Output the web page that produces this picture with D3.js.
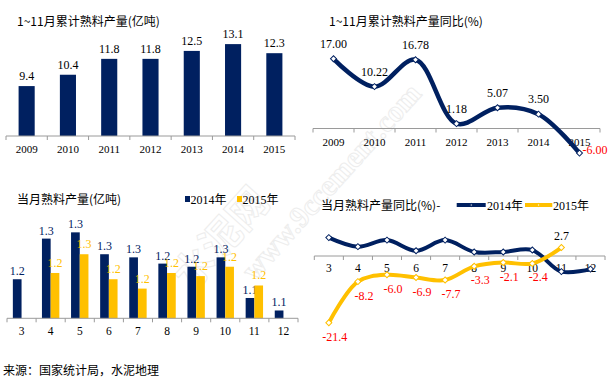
<!DOCTYPE html>
<html lang="zh">
<head>
<meta charset="UTF-8">
<title>熟料产量</title>
<style>
  body { margin: 0; padding: 0; background: #fff; }
  svg { display: block; }
  .num { font-family: "Liberation Serif", "Noto Sans CJK SC", serif; }
  .cjk { font-family: "Noto Sans CJK SC", sans-serif; }
  .axis-line { stroke: #9a9a9a; stroke-width: 1; fill: none; }
</style>
</head>
<body>
<div id="chart"></div>
<script src="https://d3js.org/d3.v7.min.js"></script>
<script>
// 1~11月累计熟料产量 (亿吨)
const years = ["2009", "2010", "2011", "2012", "2013", "2014", "2015"];
const cumOutput = [9.4, 10.4, 11.8, 11.8, 12.5, 13.1, 12.3];
// 1~11月累计同比 (%)
const cumGrowth = [17.00, 10.22, 16.78, 1.18, 5.07, 3.50, -6.00];

// 当月熟料产量 (亿吨), 3~12月
const months = ["3", "4", "5", "6", "7", "8", "9", "10", "11", "12"];
const out2014 = [1.19, 1.32, 1.34, 1.27, 1.26, 1.24, 1.23, 1.26, 1.13, 1.09];
const out2015 = [null, 1.21, 1.27, 1.19, 1.16, 1.21, 1.20, 1.23, 1.17, null];
// 当月同比 (%)
const yoy2014 = [5.9, 3.0, 5.1, 1.7, 5.1, 1.3, 1.3, 1.9, -5.0, -4.2];
const yoy2015 = [-21.4, -8.2, -6.0, -6.9, -7.7, -3.3, -2.1, -2.4, 2.7, null];

const navy = "#002060", gold = "#FFC000";

const svg = d3.select("#chart").append("svg")
  .attr("width", 614).attr("height", 379);

// faint watermark
const wm = svg.append("g").attr("transform", "translate(285,215) rotate(-48)")
  .attr("fill", "none").attr("stroke", "#ededed").attr("stroke-width", 1);
wm.append("text").attr("class", "cjk").attr("x", -120).attr("y", -18)
  .attr("font-size", 40).attr("font-weight", "bold").text("水泥网");
wm.append("text").attr("class", "num").attr("x", -70).attr("y", 22)
  .attr("font-size", 30).attr("font-weight", "bold").text("www.9ccement.com");

function bottomAxis(g, x, y0) {
  const r = x.range();
  g.append("line").attr("class", "axis-line")
    .attr("x1", r[0]).attr("x2", r[1]).attr("y1", y0).attr("y2", y0);
  const edges = x.domain().map(d => x(d)).concat([r[1]]);
  g.selectAll(".tk").data(edges).enter().append("line")
    .attr("class", "axis-line")
    .attr("x1", d => d).attr("x2", d => d)
    .attr("y1", y0).attr("y2", y0 + 4);
}

function diamond(g, cx, cy, color, s) {
  g.append("path")
    .attr("d", d3.symbol(d3.symbolSquare, s || 18)())
    .attr("transform", `translate(${cx},${cy}) rotate(45)`)
    .attr("fill", "#fff").attr("stroke", color).attr("stroke-width", 1);
}

// ---------- chart 1: cumulative output bars ----------
{
  const g = svg.append("g");
  g.append("text").attr("class", "cjk").attr("x", 17).attr("y", 26)
    .attr("font-size", 12).text("1~11月累计熟料产量(亿吨)");
  const x = d3.scaleBand().domain(years).range([6, 295]);
  const y = d3.scaleLinear().domain([5, 14]).range([136, 33.9]);
  const bw = x.bandwidth() * 0.39;
  const data = years.map((yr, i) => ({ yr, v: cumOutput[i] }));
  g.selectAll(".bar").data(data).enter().append("rect")
    .attr("x", d => x(d.yr) + (x.bandwidth() - bw) / 2)
    .attr("y", d => y(d.v)).attr("width", bw)
    .attr("height", d => y.range()[0] - y(d.v))
    .attr("fill", navy);
  g.selectAll(".lbl").data(data).enter().append("text")
    .attr("class", "num").attr("text-anchor", "middle").attr("font-size", 12)
    .attr("x", d => x(d.yr) + x.bandwidth() / 2)
    .attr("y", d => y(d.v) - 6).text(d => d.v.toFixed(1));
  bottomAxis(g, x, 136);
  g.selectAll(".tl").data(years).enter().append("text")
    .attr("class", "num").attr("text-anchor", "middle").attr("font-size", 11)
    .attr("x", d => x(d) + x.bandwidth() / 2).attr("y", 153).text(d => d);
}

// ---------- chart 2: cumulative growth line ----------
{
  const g = svg.append("g");
  g.append("text").attr("class", "cjk").attr("x", 329).attr("y", 26)
    .attr("font-size", 12).text("1~11月累计熟料产量同比(%)");
  const x = d3.scaleBand().domain(years).range([313, 600]);
  const y = d3.scaleLinear().domain([-10, 25]).range([169.5, 26]);
  const y0 = y(0);
  bottomAxis(g, x, y0);
  g.selectAll(".tl").data(years).enter().append("text")
    .attr("class", "num").attr("text-anchor", "middle").attr("font-size", 11)
    .attr("x", d => x(d) + x.bandwidth() / 2).attr("y", y0 + 17).text(d => d);
  const pts = years.map((yr, i) => [x(yr) + x.bandwidth() / 2, y(cumGrowth[i])]);
  g.append("path").attr("d", d3.line().curve(d3.curveCatmullRom.alpha(0.5))(pts))
    .attr("fill", "none").attr("stroke", navy).attr("stroke-width", 4.5);
  pts.forEach(p => diamond(g, p[0], p[1], navy));
  pts.forEach((p, i) => {
    const v = cumGrowth[i];
    const t = g.append("text").attr("class", "num").attr("font-size", 12)
      .text(v.toFixed(2));
    if (v < 0) {
      t.attr("x", p[0] + 3).attr("y", p[1] + 1).attr("fill", "#FF0000");
    } else {
      t.attr("x", p[0]).attr("y", p[1] - 11).attr("text-anchor", "middle");
    }
  });
}

// ---------- chart 3: monthly output bars ----------
{
  const g = svg.append("g");
  g.append("text").attr("class", "cjk").attr("x", 17).attr("y", 204)
    .attr("font-size", 12).text("当月熟料产量(亿吨)");
  // legend
  g.append("rect").attr("x", 185).attr("y", 196).attr("width", 5).attr("height", 6).attr("fill", navy);
  g.append("text").attr("class", "num").attr("x", 190.5).attr("y", 203.5)
    .attr("font-size", 12).text("2014年");
  g.append("rect").attr("x", 237).attr("y", 196).attr("width", 5).attr("height", 6).attr("fill", gold);
  g.append("text").attr("class", "num").attr("x", 242.5).attr("y", 203.5)
    .attr("font-size", 12).text("2015年");

  const x = d3.scaleBand().domain(months).range([7, 298]);
  const xs = d3.scaleBand().domain(["2014", "2015"]).range([0, 17.4]);
  const y = d3.scaleLinear().domain([1.065, 1.40]).range([318.3, 213.6]);
  const base = y.range()[0];
  const series = [
    { key: "2014", vals: out2014, color: navy, dy: -4 },
    { key: "2015", vals: out2015, color: gold, dy: -6 }
  ];
  series.forEach(s => {
    const data = months.map((m, i) => ({ m, v: s.vals[i] })).filter(d => d.v != null);
    const xo = d => x(d.m) + x.bandwidth() / 2 - 8.7 + xs(s.key);
    g.selectAll(".b" + s.key).data(data).enter().append("rect")
      .attr("x", xo).attr("y", d => y(d.v))
      .attr("width", xs.bandwidth()).attr("height", d => base - y(d.v))
      .attr("fill", s.color);
    g.selectAll(".l" + s.key).data(data).enter().append("text")
      .attr("class", "num").attr("text-anchor", "middle").attr("font-size", 12)
      .attr("fill", s.color)
      .attr("x", d => xo(d) + xs.bandwidth() / 2)
      .attr("y", d => y(d.v) + s.dy).text(d => d.v.toFixed(1));
  });
  bottomAxis(g, x, base);
  g.selectAll(".tl").data(months).enter().append("text")
    .attr("class", "num").attr("text-anchor", "middle").attr("font-size", 11.5)
    .attr("x", d => x(d) + x.bandwidth() / 2).attr("y", 335).text(d => d);
}

// ---------- chart 4: monthly growth lines ----------
{
  const g = svg.append("g");
  g.append("text").attr("class", "cjk").attr("x", 321).attr("y", 210)
    .attr("font-size", 12).text("当月熟料产量同比(%)-");
  // legend
  [[456.7, 485.7, navy, 487, "2014年"], [525, 552.3, gold, 553, "2015年"]].forEach(l => {
    g.append("line").attr("x1", l[0]).attr("x2", l[1]).attr("y1", 205).attr("y2", 205)
      .attr("stroke", l[2]).attr("stroke-width", 4);
    diamond(g, (l[0] + l[1]) / 2, 205, l[2], 5);
    g.append("text").attr("class", "num").attr("x", l[3]).attr("y", 209.5)
      .attr("font-size", 12).text(l[4]);
  });

  const x = d3.scaleBand().domain(months).range([314.3, 605]);
  const y = d3.scaleLinear().domain([-25, 10]).range([334, 224.8]);
  const y0 = y(0);
  bottomAxis(g, x, y0);
  g.selectAll(".tl").data(months).enter().append("text")
    .attr("class", "num").attr("text-anchor", "middle").attr("font-size", 11.5)
    .attr("x", d => x(d) + x.bandwidth() / 2).attr("y", y0 + 16).text(d => d);

  const line = d3.line().curve(d3.curveCatmullRom.alpha(0.5));
  [[yoy2014, navy], [yoy2015, gold]].forEach(([vals, color]) => {
    const pts = months.map((m, i) => vals[i] == null ? null :
      [x(m) + x.bandwidth() / 2, y(vals[i])]).filter(p => p);
    g.append("path").attr("d", line(pts)).attr("fill", "none")
      .attr("stroke", color).attr("stroke-width", 4);
    pts.forEach(p => diamond(g, p[0], p[1], color));
  });
  months.forEach((m, i) => {
    const v = yoy2015[i];
    if (v == null) return;
    const cx = x(m) + x.bandwidth() / 2, cy = y(v);
    const t = g.append("text").attr("class", "num").attr("font-size", 12)
      .attr("text-anchor", "middle").text(v.toFixed(1));
    if (v < 0) t.attr("x", cx + 6).attr("y", cy + 18).attr("fill", "#FF0000");
    else t.attr("x", cx).attr("y", cy - 8).attr("fill", "#000");
  });
}

// source
svg.append("text").attr("class", "cjk").attr("x", 3).attr("y", 375)
  .attr("font-size", 12).text("来源：国家统计局，水泥地理");
</script>
</body>
</html>
